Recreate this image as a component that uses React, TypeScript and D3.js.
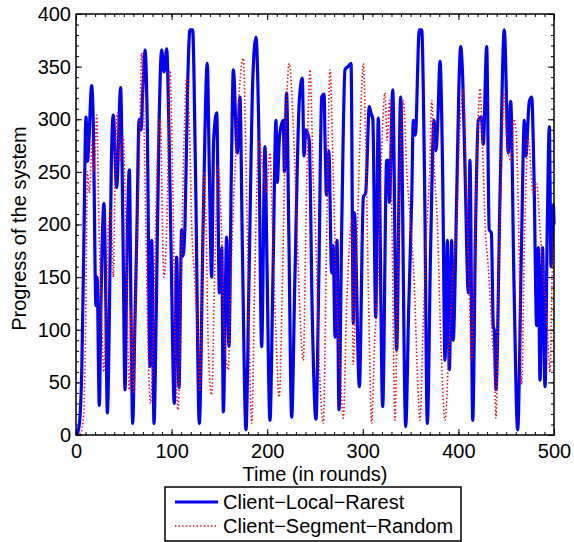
import React, { useEffect, useRef } from "react";
import * as d3 from "d3";

// Client-Local-Rarest (blue, solid) – turning points
const localRounds = [
  0, 2, 4, 6, 8, 10.5, 12, 13, 16.4, 18, 20.9, 22, 24.4, 26, 29.3, 31, 32.8, 35, 37, 39,
  42.5, 46.7, 49, 51.3, 53, 55.8, 57.5, 59.3, 61.5, 63.8, 66, 68, 70, 72.2, 74.5, 77.4, 79.2, 81.6, 84, 87,
  89.6, 92, 94.9, 97, 99.4, 102.8, 105.3, 107.7, 110.5, 112, 114, 117, 119.2, 122, 125, 129, 133, 137.3, 139.5, 141.9,
  144, 147.2, 150, 152.5, 154.1, 157.6, 160, 162.5, 164.6, 168.7, 171.5, 174, 177.8, 181, 185, 188.3, 191, 194.2, 197.7, 199.5,
  202.9, 206, 209.2, 210.5, 213, 216.8, 218, 220.3, 222.5, 225.6, 229, 233.6, 236.7, 238.5, 240.5, 244, 247, 251, 254, 257,
  259.5, 260.5, 262, 264.5, 267.4, 269, 271, 273, 275.1, 278, 281.4, 284.5, 287.7, 290.1, 291.2, 296.4, 300.6, 303, 306.8, 308.5,
  310.5, 313.5, 316.2, 320.8, 325, 326.5, 327.9, 331.3, 335.4, 339.6, 344.9, 348, 351.2, 352.8, 355, 359.1, 361.6, 364.5, 367.5, 371,
  374.5, 376.5, 378.5, 380.8, 383.5, 386, 388.4, 390.5, 393, 394.5, 398.2, 400.5, 402.4, 404.5, 407, 410.4, 412.1, 415, 418, 420.8,
  424, 426, 429.6, 432.2, 434.5, 436.5, 437.5, 439.3, 443.5, 448, 452.2, 454.7, 458.2, 462, 466, 469, 470.5, 474.2, 476.7, 479,
  481.9, 483.5, 485.4, 488, 490.6, 493, 495.1, 496.9, 499.3, 500,
];
const localProgress = [
  0, 3, 15, 60, 170, 302, 260, 270, 332, 300, 123, 150, 28, 120, 220, 140, 21, 120, 260, 304,
  235, 330, 200, 43, 150, 252, 120, 11, 100, 200, 300, 290, 330, 366, 300, 65, 185, 11, 120, 300,
  366, 345, 367, 300, 179, 30, 169, 45, 195, 170, 200, 340, 385, 385, 250, 11, 200, 353, 250, 150,
  280, 306, 135, 178, 22, 188, 84, 250, 347, 268, 321, 180, 5, 150, 340, 378, 300, 84, 274, 179,
  14, 150, 299, 240, 285, 299, 250, 325, 200, 17, 150, 318, 339, 265, 290, 280, 120, 15, 150, 321,
  324, 280, 228, 270, 154, 180, 93, 185, 24, 200, 347, 350, 353, 106, 211, 46, 226, 230, 312, 306,
  300, 112, 301, 27, 261, 261, 221, 328, 81, 321, 8, 120, 226, 299, 285, 385, 385, 250, 11, 180,
  299, 270, 300, 355, 250, 71, 185, 62, 185, 90, 226, 330, 369, 339, 250, 135, 261, 14, 200, 299,
  302, 276, 369, 195, 192, 103, 100, 43, 226, 385, 268, 317, 141, 5, 180, 299, 265, 317, 321, 250,
  104, 178, 52, 178, 46, 200, 293, 160, 218, 200,
];

// Client-Segment-Random (red, dotted)
const segmentRounds = [
  0, 5, 8, 10, 12, 14, 17, 19, 21.6, 24, 27, 29, 31.5, 34, 36.6, 39, 41, 43.2, 46, 49.5,
  52, 55.8, 58, 60.5, 63, 66, 68.7, 71, 73, 75.5, 78, 81, 84, 88, 92, 95, 98.3, 101, 104, 106.7,
  110, 113, 116, 119, 121, 124, 127, 129.7, 132, 134, 136, 138.5, 141.9, 145, 148.8, 152, 155, 159.2, 162, 164.6,
  168, 171, 175, 178, 181, 183.8, 187, 191.4, 195.9, 199, 202.9, 206, 209, 212.6, 216, 219, 223.1, 227, 231, 234,
  237.8, 240.5, 244.8, 248, 251, 254, 258.7, 262, 265.7, 269, 272, 276, 279.6, 283, 286, 288.4, 290, 293, 297, 300.6,
  303, 306, 309.3, 312, 316, 319, 323.2, 325.5, 328, 330.5, 333.7, 336, 339, 342.4, 346, 350, 354, 357, 359.8, 363,
  367, 370, 372.1, 375, 378, 382, 386, 390, 394, 398, 401, 405.1, 408, 411, 413.9, 417, 420, 422.6, 425, 428,
  432, 435, 438, 439.3, 442, 445, 447.7, 451, 455, 458, 460.3, 463, 466.2, 469, 473.1, 476, 478, 481.9, 485, 489,
  493, 495.8, 498, 500,
];
const segmentProgress = [
  0, 2, 20, 100, 250, 230, 280, 250, 304, 200, 105, 60, 120, 200, 214, 150, 250, 306, 260, 283,
  200, 43, 120, 40, 170, 250, 363, 300, 200, 80, 30, 100, 230, 300, 150, 200, 346, 250, 80, 24,
  150, 280, 340, 280, 200, 150, 100, 43, 150, 250, 200, 80, 38, 150, 255, 200, 100, 62, 150, 217,
  280, 330, 358, 250, 100, 11, 150, 280, 250, 230, 268, 180, 100, 36, 150, 280, 353, 300, 200, 120,
  71, 200, 347, 250, 180, 80, 11, 180, 347, 250, 150, 70, 16, 120, 180, 204, 67, 150, 280, 353,
  280, 130, 11, 80, 150, 250, 325, 280, 318, 200, 14, 120, 250, 318, 250, 200, 140, 60, 14, 100,
  200, 250, 318, 250, 200, 80, 14, 80, 150, 200, 280, 328, 250, 150, 71, 180, 280, 329, 280, 200,
  150, 100, 52, 16, 150, 250, 325, 280, 260, 300, 288, 200, 48, 180, 282, 250, 230, 239, 200, 150,
  100, 60, 150, 200,
];

const xTicks = [0, 100, 200, 300, 400, 500];
const yTicks = [0, 50, 100, 150, 200, 250, 300, 350, 400];
const seriesNames = ["Client\u2212Local\u2212Rarest", "Client\u2212Segment\u2212Random"];
const xLabel = "Time (in rounds)";
const yLabel = "Progress of the system";

const FONT = "'Liberation Sans', Arial, Helvetica, sans-serif";

export default function App() {
  const ref = useRef<SVGSVGElement>(null);

  useEffect(() => {
    const svg = d3.select(ref.current).html("");

    const margin = { top: 14, right: 20, bottom: 107, left: 76 };
    const width = 574 - margin.left - margin.right;
    const height = 542 - margin.top - margin.bottom;

    const x = d3.scaleLinear().domain([0, 500]).range([0, width]);
    const y = d3.scaleLinear().domain([0, 400]).range([height, 0]);

    const g = svg.append("g")
      .attr("transform", `translate(${margin.left},${margin.top})`);

    // ticks on all four sides, pointing inward (matlab style)
    const styleAxis = (sel: any) => {
      sel.select(".domain").remove();
      sel.selectAll("line").attr("stroke", "#000").attr("stroke-width", 1);
      sel.attr("font-size", 20).attr("font-family", FONT);
      sel.selectAll("text").attr("fill", "#000");
    };
    const minorX = d3.range(0, 501, 10);
    const minorY = d3.range(0, 401, 10);

    g.append("g").attr("transform", `translate(0,${height})`)
      .call(d3.axisBottom(x).tickValues(minorX).tickSize(-3).tickFormat(() => "")).call(styleAxis);
    g.append("g")
      .call(d3.axisTop(x).tickValues(minorX).tickSize(-3).tickFormat(() => "")).call(styleAxis);
    g.append("g")
      .call(d3.axisLeft(y).tickValues(minorY).tickSize(-3).tickFormat(() => "")).call(styleAxis);
    g.append("g").attr("transform", `translate(${width},0)`)
      .call(d3.axisRight(y).tickValues(minorY).tickSize(-3).tickFormat(() => "")).call(styleAxis);

    g.append("g").attr("transform", `translate(0,${height})`)
      .call(d3.axisBottom(x).tickValues(xTicks).tickSize(-6).tickPadding(9)).call(styleAxis);
    g.append("g")
      .call(d3.axisTop(x).tickValues(xTicks).tickSize(-6).tickFormat(() => "")).call(styleAxis);
    g.append("g")
      .call(d3.axisLeft(y).tickValues(yTicks).tickSize(-6).tickPadding(5)).call(styleAxis);
    g.append("g").attr("transform", `translate(${width},0)`)
      .call(d3.axisRight(y).tickValues(yTicks).tickSize(-6).tickFormat(() => "")).call(styleAxis);

    const line = d3.line<[number, number]>()
      .x(d => x(d[0]))
      .y(d => y(d[1]))
      .curve(d3.curveMonotoneX);

    const localData = localRounds.map((t, i) => [t, localProgress[i]] as [number, number]);
    const segmentData = segmentRounds.map((t, i) => [t, segmentProgress[i]] as [number, number]);

    g.append("path")
      .datum(localData)
      .attr("d", line)
      .attr("fill", "none")
      .attr("stroke", "#0000ff")
      .attr("stroke-width", 3.2)
      .attr("stroke-linejoin", "round");

    g.append("path")
      .datum(segmentData)
      .attr("d", line)
      .attr("fill", "none")
      .attr("stroke", "#ff0000")
      .attr("stroke-width", 1.6)
      .attr("stroke-dasharray", "1.4,2.2");

    // frame
    g.append("rect")
      .attr("width", width)
      .attr("height", height)
      .attr("fill", "none")
      .attr("stroke", "#000")
      .attr("stroke-width", 1.5);

    // axis labels
    svg.append("text")
      .attr("x", margin.left + width / 2)
      .attr("y", 481)
      .attr("text-anchor", "middle")
      .attr("font-size", 20)
      .attr("font-family", FONT)
      .text(xLabel);

    svg.append("text")
      .attr("transform", `translate(26,${margin.top + height / 2 + 4}) rotate(-90)`)
      .attr("text-anchor", "middle")
      .attr("font-size", 20)
      .attr("font-family", FONT)
      .text(yLabel);

    // legend
    const legend = svg.append("g").attr("transform", "translate(165,487)");
    legend.append("rect")
      .attr("width", 296)
      .attr("height", 54)
      .attr("fill", "#fff")
      .attr("stroke", "#000")
      .attr("stroke-width", 1.5);

    const legendStyles = [
      { stroke: "#0000ff", width: 3.2, dash: null },
      { stroke: "#ff0000", width: 1.6, dash: "1.4,2.2" },
    ];
    seriesNames.forEach((name, i) => {
      const ly = 15 + i * 24;
      legend.append("line")
        .attr("x1", 10).attr("x2", 53)
        .attr("y1", ly).attr("y2", ly)
        .attr("stroke", legendStyles[i].stroke)
        .attr("stroke-width", legendStyles[i].width)
        .attr("stroke-dasharray", legendStyles[i].dash);
      legend.append("text")
        .attr("x", 58)
        .attr("y", ly + 7)
        .attr("font-size", 20)
        .attr("font-family", FONT)
        .text(name);
    });
  }, []);

  return (
    <svg
      ref={ref}
      width={574}
      height={542}
      style={{ position: "absolute", left: 0, top: 0, background: "#fff" }}
    />
  );
}
